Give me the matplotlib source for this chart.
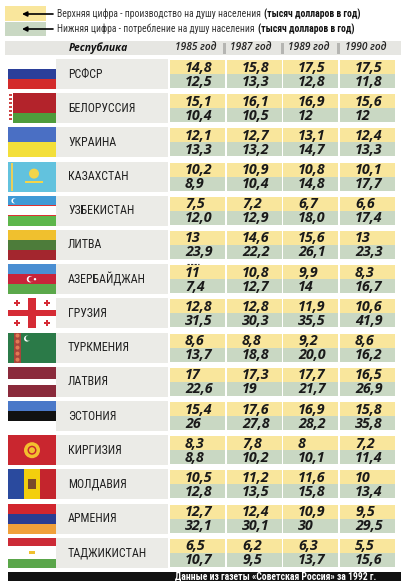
import matplotlib.pyplot as plt
from matplotlib.patches import Rectangle, Circle
from matplotlib import font_manager

republics = ['РСФСР', 'БЕЛОРУССИЯ', 'УКРАИНА', 'КАЗАХСТАН', 'УЗБЕКИСТАН',
             'ЛИТВА', 'АЗЕРБАЙДЖАН', 'ГРУЗИЯ', 'ТУРКМЕНИЯ', 'ЛАТВИЯ',
             'ЭСТОНИЯ', 'КИРГИЗИЯ', 'МОЛДАВИЯ', 'АРМЕНИЯ', 'ТАДЖИКИСТАН']
years = ['1985 год', '1987 год', '1989 год', '1990 год']

# upper figure - production per capita (thousand $ per year)
production = [['14,8', '15,8', '17,5', '17,5'],
              ['15,1', '16,1', '16,9', '15,6'],
              ['12,1', '12,7', '13,1', '12,4'],
              ['10,2', '10,9', '10,8', '10,1'],
              ['7,5', '7,2', '6,7', '6,6'],
              ['13', '14,6', '15,6', '13'],
              ['11', '10,8', '9,9', '8,3'],
              ['12,8', '12,8', '11,9', '10,6'],
              ['8,6', '8,8', '9,2', '8,6'],
              ['17', '17,3', '17,7', '16,5'],
              ['15,4', '17,6', '16,9', '15,8'],
              ['8,3', '7,8', '8', '7,2'],
              ['10,5', '11,2', '11,6', '10'],
              ['12,7', '12,4', '10,9', '9,5'],
              ['6,5', '6,2', '6,3', '5,5']]

# lower figure - consumption per capita (thousand $ per year)
consumption = [['12,5', '13,3', '12,8', '11,8'],
               ['10,4', '10,5', '12', '12'],
               ['13,3', '13,2', '14,7', '13,3'],
               ['8,9', '10,4', '14,8', '17,7'],
               ['12,0', '12,9', '18,0', '17,4'],
               ['23,9', '22,2', '26,1', '23,3'],
               ['7,4', '12,7', '14', '16,7'],
               ['31,5', '30,3', '35,5', '41,9'],
               ['13,7', '18,8', '20,0', '16,2'],
               ['22,6', '19', '21,7', '26,9'],
               ['26', '27,8', '28,2', '35,8'],
               ['8,8', '10,2', '10,1', '11,4'],
               ['12,8', '13,5', '15,8', '13,4'],
               ['32,1', '30,1', '30', '29,5'],
               ['10,7', '9,5', '13,7', '15,6']]

# flag stripes: orientation, colours, relative sizes
flag_stripes = [('h', ['#ffffff', '#2b3f9a', '#d32b2b'], [1, 1, 1]),
                ('h', ['#b3232b', '#4e9c3c'], [2, 1]),
                ('h', ['#4a6fc4', '#f3df3a'], [1, 1]),
                ('h', ['#62c2de'], [1]),
                ('h', ['#3f9ad6', '#ffffff', '#5db64b'], [1, 1, 1]),
                ('h', ['#f0c02e', '#4d7c3a', '#a3262e'], [1, 1, 1]),
                ('h', ['#4a8ed2', '#c8243a', '#5ba84b'], [1, 1, 1]),
                ('h', ['#ffffff'], [1]),
                ('h', ['#2b7a48'], [1]),
                ('h', ['#8a2a3b', '#ffffff', '#8a2a3b'], [2, 1, 2]),
                ('h', ['#4a78c8', '#111111', '#ffffff'], [1, 1, 1]),
                ('h', ['#c9262f'], [1]),
                ('v', ['#2a4a9e', '#f3cf0d', '#c4252d'], [1, 1, 1]),
                ('h', ['#d2262e', '#2a3d92', '#f0a03a'], [1, 1, 1]),
                ('h', ['#cc2a36', '#ffffff', '#5aa64a'], [2, 3, 2])]

yellow = '#f9e69c'
green = '#c9d8c3'
gray = '#ebebe7'

names = {f.name for f in font_manager.fontManager.ttflist}
narrow = 'Roboto'
for cand in ['Liberation Sans Narrow', 'Roboto Condensed', 'Open Sans Condensed']:
    if cand in names:
        narrow = cand
        break
numfont = 'Open Sans' if 'Open Sans' in names else 'DejaVu Sans'

fig = plt.figure(figsize=(4.01, 5.86), dpi=100)
ax = fig.add_axes([0, 0, 1, 1])
ax.set_xlim(0, 401)
ax.set_ylim(586, 0)
ax.axis('off')


def draw_flag(i, x0, y0, w, h):
    orient, cols, sizes = flag_stripes[i]
    tot = sum(sizes)
    pos = 0
    for c, s in zip(cols, sizes):
        if orient == 'h':
            ax.add_patch(Rectangle((x0, y0 + h * pos / tot), w, h * s / tot, color=c, lw=0))
        else:
            ax.add_patch(Rectangle((x0 + w * pos / tot, y0), w * s / tot, h, color=c, lw=0))
        pos += s
    name = republics[i]
    if name == 'БЕЛОРУССИЯ':
        ax.add_patch(Rectangle((x0, y0), 5, h, color='#ffffff', lw=0))
        for k in range(7):
            ax.add_patch(Rectangle((x0 + 1, y0 + 1 + k * 4), 3, 2, color='#c44', lw=0))
    elif name == 'КАЗАХСТАН':
        ax.add_patch(Circle((x0 + 26, y0 + 12), 5, color='#f3d54a', lw=0))
        ax.add_patch(Rectangle((x0 + 17, y0 + 19), 18, 2, color='#f3d54a', lw=0))
        ax.add_patch(Rectangle((x0 + 3, y0 + 1), 2, h - 2, color='#e9cf5a', lw=0))
    elif name == 'УЗБЕКИСТАН':
        ax.add_patch(Rectangle((x0, y0 + h / 3 - 0.6), w, 1.2, color='#d33', lw=0))
        ax.add_patch(Rectangle((x0, y0 + 2 * h / 3 - 0.6), w, 1.2, color='#d33', lw=0))
        ax.add_patch(Circle((x0 + 6, y0 + 5), 2.6, color='#ffffff', lw=0))
        ax.add_patch(Circle((x0 + 7.3, y0 + 5), 2.3, color='#3f9ad6', lw=0))
    elif name == 'АЗЕРБАЙДЖАН':
        ax.add_patch(Circle((x0 + 22, y0 + h / 2), 3.2, color='#ffffff', lw=0))
        ax.add_patch(Circle((x0 + 23.2, y0 + h / 2), 2.7, color='#c8243a', lw=0))
        ax.add_patch(Circle((x0 + 27, y0 + h / 2), 1.2, color='#ffffff', lw=0))
    elif name == 'ГРУЗИЯ':
        ax.add_patch(Rectangle((x0 + 20, y0), 8, h, color='#d52b35', lw=0))
        ax.add_patch(Rectangle((x0, y0 + 12), w, 6, color='#d52b35', lw=0))
        for cx, cy in [(9, 5), (39, 5), (9, 25), (39, 25)]:
            ax.add_patch(Rectangle((x0 + cx - 3, y0 + cy - 1), 6, 2, color='#d52b35', lw=0))
            ax.add_patch(Rectangle((x0 + cx - 1, y0 + cy - 3), 2, 6, color='#d52b35', lw=0))
    elif name == 'ТУРКМЕНИЯ':
        ax.add_patch(Rectangle((x0 + 6, y0), 7, h, color='#a8453a', lw=0))
        for k in range(5):
            ax.add_patch(Circle((x0 + 9.5, y0 + 3 + k * 6), 2, color='#e07b55', lw=0))
        ax.add_patch(Circle((x0 + 19, y0 + 6), 3, color='#ffffff', lw=0))
        ax.add_patch(Circle((x0 + 20.3, y0 + 5.5), 2.6, color='#2b7a48', lw=0))
    elif name == 'КИРГИЗИЯ':
        ax.add_patch(Circle((x0 + w / 2, y0 + h / 2), 8, color='#f3c02e', lw=0))
        ax.add_patch(Circle((x0 + w / 2, y0 + h / 2), 4.5, color='#c9262f', lw=0))
        ax.add_patch(Circle((x0 + w / 2, y0 + h / 2), 3, color='#f3c02e', lw=0))
    elif name == 'МОЛДАВИЯ':
        ax.add_patch(Rectangle((x0 + 20, y0 + 10), 8, 10, color='#7a4a2a', lw=0))
    elif name == 'ТАДЖИКИСТАН':
        ax.add_patch(Rectangle((x0 + 21, y0 + 13), 6, 3, color='#f0c02e', lw=0))


# legend at the top
ax.add_patch(Rectangle((5, 6), 41, 15, color=yellow, lw=0))
ax.add_patch(Rectangle((5, 22), 41, 14, color=green, lw=0))
for yy in (14, 29):
    ax.annotate('', xy=(22, yy), xytext=(53, yy),
                arrowprops=dict(arrowstyle='-|>', color='black', lw=1.2,
                                mutation_scale=7, shrinkA=0, shrinkB=0))

legend_lines = ['Верхняя цифра - производство на душу населения',
                'Нижняя цифра - потребление на душу населения']
fig.canvas.draw()
renderer = fig.canvas.get_renderer()
for yy, line in zip((14, 29), legend_lines):
    t = ax.text(57, yy, line, family=narrow, fontsize=6.9, color='#333333',
                va='center')
    bb = t.get_window_extent(renderer)
    x_end = ax.transData.inverted().transform((bb.x1, bb.y0))[0]
    ax.text(x_end + 3, yy, '(тысяч долларов в год)', family=narrow,
            fontsize=6.9, weight='bold', color='#111111', va='center')

# header row
ax.add_patch(Rectangle((5, 41), 396, 14, color='#e6e6e2', lw=0))
ax.text(98, 48, 'Республика', family=numfont, fontsize=7.5, weight='bold',
        style='italic', ha='center', va='center', color='#111111')
col_x = [170, 227, 283, 340]
col_w = 55
year_x = [196, 251, 309, 366]
for j, yr in enumerate(years):
    ax.text(year_x[j], 48, yr, family=numfont, fontsize=7.3, style='italic',
            weight='semibold', ha='center', va='center', color='#222222')
for bx in (223, 281, 337):
    ax.add_patch(Rectangle((bx, 42.5), 3, 11, color='#b5b5b2', lw=0))

# table rows
pitch = 34.2
for i, rep in enumerate(republics):
    top = 60 + i * pitch
    draw_flag(i, 8, top - 1, 48, 30)
    ax.add_patch(Rectangle((56, top - 1), 112, 30, color=gray, lw=0))
    ax.text(68, top + 14, rep, family=narrow, fontsize=8.6, color='#222222',
            va='center')
    for j in range(4):
        ax.add_patch(Rectangle((col_x[j], top), col_w, 14, color=yellow, lw=0))
        ax.add_patch(Rectangle((col_x[j], top + 14), col_w, 14, color=green, lw=0))
        ax.text(col_x[j] + 15, top + 7.5, production[i][j], family=numfont,
                fontsize=10.3, weight='bold', style='italic', va='center',
                color='#1a1a1a')
        ax.text(col_x[j] + 15, top + 21.5, consumption[i][j], family=numfont,
                fontsize=10.3, weight='bold', style='italic', va='center',
                color='#1a1a1a')
    if rep == 'АЗЕРБАЙДЖАН':
        # dashes printed over the 1985 figure in the paper
        ax.plot([187, 199], [top - 1.5, top - 1.5], color='#333333', lw=0.8,
                ls=(0, (2, 1.2)))

# source line
ax.add_patch(Rectangle((8, 572), 393, 9, color='#111111', lw=0))
ax.text(276, 576.5, 'Данные из газеты «Советская Россия» за 1992 г.',
        family=narrow, fontsize=6.9, weight='bold', color='white',
        ha='center', va='center')

fig.savefig('out.png', dpi=100)
